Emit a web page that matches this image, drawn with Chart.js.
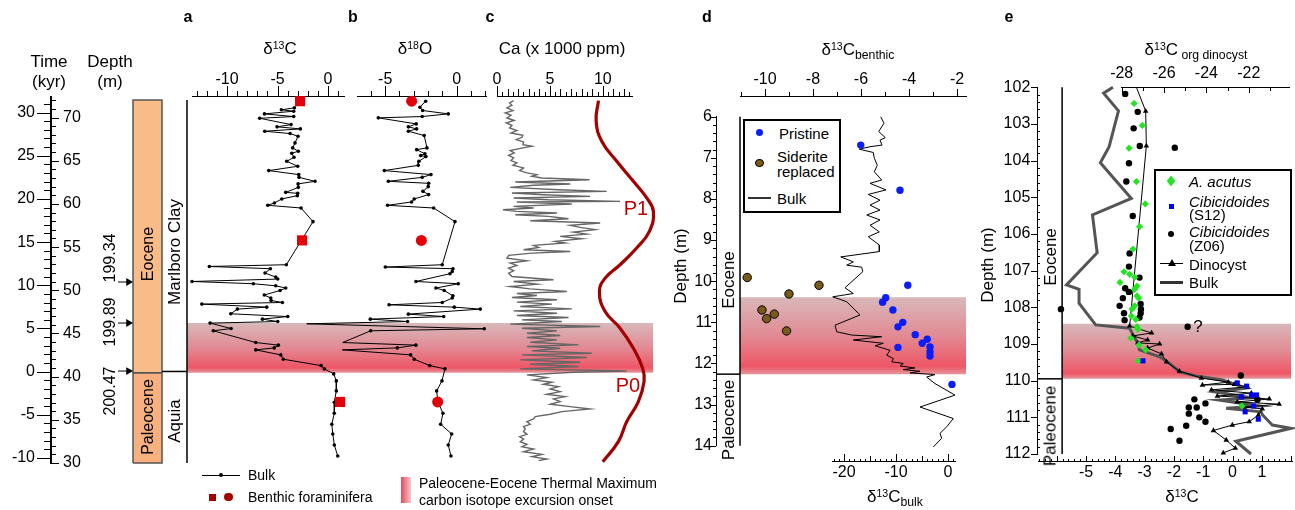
<!DOCTYPE html>
<html><head><meta charset="utf-8"><title>PETM records</title>
<script src="https://cdn.jsdelivr.net/npm/chart.js@4.4.1/dist/chart.umd.min.js"></script>
<style>
html,body{margin:0;padding:0;background:#fff;}
#wrap{position:relative;width:1295px;height:510px;overflow:hidden;background:#fff;font-family:"Liberation Sans",Arial,Helvetica,sans-serif;color:#000;}
#wrap canvas{position:absolute;left:0;top:0;}
.t{position:absolute;white-space:nowrap;transform:translate(-50%,-50%);line-height:1;z-index:10;font-size:16px;}
.l{transform:translate(0,-50%);}
.rot{transform:translate(-50%,-50%) rotate(-90deg);}
.sp{font-size:0.62em;position:relative;top:-0.5em;}
.sb{font-size:0.72em;position:relative;top:0.3em;}
.box{position:absolute;border:2px solid #000;background:#fff;z-index:9;box-sizing:border-box;}
.mk{position:absolute;z-index:11;}
.i{font-style:italic;}
</style></head><body><div id="wrap">
<!-- left axis titles -->
<div class="t" style="left:49px;top:61px;font-size:17px">Time</div>
<div class="t" style="left:49px;top:81px;font-size:17px">(kyr)</div>
<div class="t" style="left:110px;top:61px;font-size:17px">Depth</div>
<div class="t" style="left:110px;top:81px;font-size:17px">(m)</div>
<!-- panel letters -->
<div class="t" style="left:188px;top:17px;font-weight:bold">a</div>
<div class="t" style="left:353px;top:17px;font-weight:bold">b</div>
<div class="t" style="left:490px;top:17px;font-weight:bold">c</div>
<div class="t" style="left:707px;top:17px;font-weight:bold">d</div>
<div class="t" style="left:1009px;top:17px;font-weight:bold">e</div>
<!-- axis titles -->
<div class="t" style="left:280px;top:48px;font-size:17px">δ<span class="sp">13</span>C</div>
<div class="t" style="left:415px;top:48px;font-size:17px">δ<span class="sp">18</span>O</div>
<div class="t" style="left:562px;top:48px;font-size:17px">Ca (x 1000 ppm)</div>
<div class="t" style="left:858px;top:49px;font-size:17px">δ<span class="sp">13</span>C<span class="sb">benthic</span></div>
<div class="t" style="left:1196px;top:49px;font-size:17px">δ<span class="sp">13</span>C<span class="sb"> org dinocyst</span></div>
<div class="t" style="left:895px;top:496px;font-size:17px">δ<span class="sp">13</span>C<span class="sb">bulk</span></div>
<div class="t" style="left:1182px;top:496px;font-size:17px">δ<span class="sp">13</span>C</div>
<!-- stratigraphy labels -->
<div class="t rot" style="left:148px;top:254px">Eocene</div>
<div class="t rot" style="left:148px;top:417px">Paleocene</div>
<div class="t rot" style="left:174px;top:252px;font-size:17px">Marlboro Clay</div>
<div class="t rot" style="left:174px;top:421px;font-size:17px">Aquia</div>
<div class="t rot" style="left:110px;top:258px">199.34</div>
<div class="t rot" style="left:110px;top:322px">199.89</div>
<div class="t rot" style="left:110px;top:391px">200.47</div>
<div class="t" style="left:636px;top:208px;font-size:20px;color:#C00000">P1</div>
<div class="t" style="left:628px;top:385px;font-size:20px;color:#C00000">P0</div>
<div class="t rot" style="left:680px;top:266px;font-size:17px">Depth (m)</div>
<div class="t rot" style="left:728px;top:280px;font-size:17px">Eocene</div>
<div class="t rot" style="left:728px;top:420px;font-size:17px">Paleocene</div>
<div class="t rot" style="left:987px;top:265px;font-size:17px">Depth (m)</div>
<div class="t rot" style="left:1050px;top:257px;font-size:17px">Eocene</div>
<div class="t rot" style="left:1050px;top:426px;font-size:17px">Paleocene</div>
<div class="t" style="left:1198px;top:326px;font-size:17px">?</div>
<!-- legend panel d -->
<div class="box" style="left:743px;top:119px;width:98px;height:94px"></div>
<div class="mk" style="left:755.6px;top:129px;width:7.4px;height:7.4px;border-radius:50%;background:#0A1EF5"></div>
<div class="t l" style="left:779px;top:133px;font-size:15px">Pristine</div>
<div class="mk" style="left:755px;top:158.5px;width:8.5px;height:8.5px;border-radius:50%;background:#7A5A18;border:1px solid #000;box-sizing:border-box"></div>
<div class="t l" style="left:777px;top:156px;font-size:15px">Siderite</div>
<div class="t l" style="left:777px;top:171px;font-size:15px">replaced</div>
<div class="mk" style="left:748px;top:197px;width:23px;height:1.5px;background:#333"></div>
<div class="t l" style="left:777px;top:198px;font-size:15px">Bulk</div>
<!-- legend panel e -->
<div class="box" style="left:1154px;top:169px;width:138px;height:127px"></div>
<div class="mk" style="left:1168px;top:178px;width:6px;height:6px;background:#22E522;transform:scaleY(1.3) rotate(45deg)"></div>
<div class="t l i" style="left:1189px;top:181px;font-size:15px">A. acutus</div>
<div class="mk" style="left:1168.5px;top:203.5px;width:5px;height:5px;background:#0000F0"></div>
<div class="t l i" style="left:1189px;top:201px;font-size:15px">Cibicidoides</div>
<div class="t l" style="left:1189px;top:214px;font-size:15px">(S12)</div>
<div class="mk" style="left:1168px;top:231.3px;width:6px;height:6px;border-radius:50%;background:#000"></div>
<div class="t l i" style="left:1189px;top:231px;font-size:15px">Cibicidoides</div>
<div class="t l" style="left:1189px;top:245px;font-size:15px">(Z06)</div>
<div class="mk" style="left:1160px;top:263px;width:23px;height:1px;background:#000"></div>
<div class="mk" style="left:1167.5px;top:259px;width:0;height:0;border-left:4px solid transparent;border-right:4px solid transparent;border-bottom:7px solid #000"></div>
<div class="t l" style="left:1189px;top:263.5px;font-size:15px">Dinocyst</div>
<div class="mk" style="left:1160px;top:280.5px;width:23px;height:3px;background:#333"></div>
<div class="t l" style="left:1189px;top:282px;font-size:15px">Bulk</div>
<!-- bottom legend -->
<div class="mk" style="left:202px;top:474.5px;width:38px;height:1px;background:#000"></div>
<div class="mk" style="left:219px;top:473px;width:4px;height:4px;border-radius:50%;background:#000"></div>
<div class="t l" style="left:248px;top:475px;font-size:14px">Bulk</div>
<div class="mk" style="left:209px;top:493.5px;width:7px;height:7px;background:#A50000"></div>
<div class="mk" style="left:224px;top:492.5px;width:8.5px;height:8.5px;border-radius:50%;background:#A50000"></div>
<div class="t l" style="left:248px;top:497px;font-size:14px">Benthic foraminifera</div>
<div class="mk" style="left:401px;top:477px;width:10px;height:26px;background:linear-gradient(to right,#E6485A,#F4C9CD)"></div>
<div class="t l" style="left:419px;top:483px;font-size:14px">Paleocene-Eocene Thermal Maximum</div>
<div class="t l" style="left:419px;top:500px;font-size:14px">carbon isotope excursion onset</div>
</div>
<script>
const FONT = '"Liberation Sans", Arial, Helvetica, sans-serif';
const W = 1295, H = 510;
const RED = '#E3000B';

// ================= DATA =================
// shared vertical ranges for the left group (depth in m, time in kyr)
const abcDepthMin = 30, abcDepthMax = 72.5;
const timeMin = -10.58, timeMax = 31.92;

// stratigraphy column (depth, m)
const epochTop = 72.04, epochBoundary = 40.45, epochBase = 30;
const formationBoundary = 40.6;
const arrowDepths = [50.96, 46.21, 40.65];
const petmTop = 46.21, petmBase = 40.45;

// panel a: bulk d13C
const aDepth = [71.13,70.90,70.74,70.43,70.12,69.92,69.19,68.93,68.69,68.42,68.15,67.84,67.07,66.49,66.10,65.87,65.40,64.94,64.36,63.86,63.40,63.08,62.62,62.32,61.92,61.34,61.23,60.96,60.58,60.11,59.84,59.53,57.95,52.96,52.76,52.50,52.00,51.53,51.30,51.02,50.76,50.52,50.26,49.98,49.45,49.10,48.82,48.59,48.40,48.05,47.82,47.28,46.96,46.66,46.38,46.20,45.57,45.31,43.95,43.65,43.33,43.10,42.52,42.02,41.28,40.90,40.32,39.51,38.35,37.04,35.76,34.49,33.36,32.09,30.81];
const aC13 = [-3.33,-4.62,-3.40,-6.30,-3.40,-6.77,-3.66,-5.05,-2.74,-6.27,-3.76,-2.97,-3.27,-3.50,-2.94,-3.60,-3.37,-4.09,-3.00,-5.87,-2.90,-2.87,-1.29,-2.97,-2.94,-4.19,-3.00,-3.04,-4.58,-5.31,-5.97,-2.67,-1.49,-4.13,-11.75,-5.71,-6.24,-5.18,-4.98,-13.47,-7.40,-5.18,-4.19,-4.75,-6.31,-5.67,-5.64,-4.52,-12.50,-6.07,-8.98,-9.63,-3.99,-6.50,-4.98,-11.68,-9.60,-11.36,-7.16,-4.92,-5.32,-7.16,-4.68,-4.43,-0.69,-0.37,0.56,0.82,0.82,0.62,0.62,0.37,0.47,0.62,0.96];
const aBenthicDepth = [71.9, 55.78, 37.07];
const aBenthicC13 = [-2.77, -2.57, 1.19];

// panel b: bulk d18O
const bDepth = [71.90,71.20,70.82,70.43,70.12,69.97,69.27,68.93,68.69,68.42,67.92,66.49,66.29,65.80,65.60,65.48,64.94,64.47,63.86,63.40,63.08,62.62,62.39,62.00,61.46,61.08,60.58,60.23,59.84,59.53,57.95,52.96,52.69,52.50,52.18,51.92,51.02,50.76,50.26,49.98,49.36,49.10,48.59,48.32,48.05,47.82,47.24,46.96,46.66,46.38,46.12,45.54,45.31,43.95,43.65,43.33,43.10,42.52,42.02,41.28,40.90,39.51,38.35,37.07,35.76,34.49,33.36,32.09,30.81];
const bO18 = [-2.17,-2.57,-2.38,-0.59,-2.41,-5.48,-2.83,-3.38,-2.80,-3.38,-2.27,-2.08,-2.80,-2.22,-2.52,-2.15,-2.64,-2.69,-5.06,-1.80,-2.41,-4.78,-1.96,-1.99,-2.36,-1.96,-2.97,-3.15,-4.83,-1.61,-0.12,-1.01,-4.99,-0.26,-0.31,-0.47,-2.85,0.11,-1.45,-0.87,-0.26,-0.31,-1.01,-4.73,-0.17,1.65,-3.38,-0.91,-6.04,-3.43,-10.49,1.93,-6.01,-7.97,-2.85,-4.15,-8.00,-3.22,-2.97,-1.89,-0.82,-1.03,-1.40,-1.31,-0.96,-1.12,-0.35,-0.59,-0.40];
const bBenthicDepth = [71.9, 55.78, 37.07];
const bBenthicO18 = [-3.15, -2.47, -1.33];

// panel c: Ca (x1000 ppm)
const cDepth = [71.97,71.70,71.43,71.12,70.81,70.54,70.27,69.96,69.66,69.38,69.11,68.80,68.50,68.22,67.95,67.72,67.45,67.18,66.87,66.68,66.49,66.18,65.91,65.64,65.33,65.02,64.75,64.48,64.17,63.86,63.59,63.39,63.20,63.01,62.81,62.54,62.31,62.16,61.92,61.65,61.46,61.27,61.07,60.88,60.69,60.49,60.30,60.22,59.99,59.72,59.53,59.33,59.14,58.95,58.75,58.56,58.29,58.06,57.79,57.52,57.29,57.02,56.74,56.51,56.24,55.97,55.66,55.47,55.20,54.97,54.70,54.50,54.31,54.04,53.73,53.42,53.15,52.88,52.57,52.26,51.99,51.60,51.22,51.02,50.71,50.44,50.17,49.86,49.63,49.40,49.17,48.90,48.63,48.40,48.13,47.85,47.62,47.35,47.08,46.85,46.58,46.38,46.08,45.80,45.61,45.30,45.03,44.76,44.53,44.26,43.99,43.68,43.49,43.29,42.98,42.71,42.52,42.21,41.94,41.67,41.44,41.17,40.90,40.66,40.51,40.20,39.89,39.62,39.35,39.12,38.85,38.58,38.27,37.96,37.69,37.42,37.11,36.80,36.53,36.26,35.95,35.64,35.37,35.10,34.79,34.48,34.21,33.94,33.63,33.32,33.05,32.78,32.47,32.16,31.89,31.62,31.31,31.00,30.73,30.46,30.27];
const cCa = [1.57,1.19,1.41,0.94,1.51,0.78,1.32,0.94,1.63,0.88,1.41,1.19,1.88,1.32,2.45,2.36,1.82,2.51,2.45,3.30,2.45,1.25,1.63,1.10,1.57,1.32,1.88,1.51,2.51,2.14,2.83,3.77,3.30,4.24,8.74,1.73,6.92,3.46,1.25,5.81,10.37,1.41,4.40,8.80,1.57,4.87,11.63,1.88,7.07,1.57,3.46,0.56,1.88,5.66,1.73,4.87,6.76,3.14,9.75,6.92,7.86,9.27,7.23,8.49,5.97,8.02,5.50,6.44,3.46,3.93,2.51,6.92,3.30,1.10,0.94,2.83,1.25,1.88,1.10,1.57,1.10,1.41,5.34,1.57,3.77,1.25,3.14,6.60,1.88,3.77,1.41,5.66,1.88,5.19,2.20,7.07,1.57,5.66,1.88,6.76,2.36,6.13,1.25,9.75,2.36,5.66,2.83,5.97,2.83,5.66,3.14,7.70,2.83,5.97,3.30,8.96,2.36,8.49,2.20,7.86,3.14,7.70,2.20,12.26,7.23,2.83,4.71,3.46,5.19,4.40,5.81,5.03,5.97,4.71,6.44,5.34,5.97,5.03,6.92,8.80,6.13,5.03,3.61,3.46,2.83,3.14,2.51,2.67,2.51,2.83,2.14,2.51,2.20,2.83,2.36,3.46,2.51,4.24,3.30,4.71,3.93];
// precession-style curve (P0/P1) control points
const cCurveDepth = [71.97,69.58,67.26,64.94,62.62,60.69,59.14,56.82,54.89,52.96,51.41,49.86,47.54,45.61,43.29,40.97,39.43,37.11,34.79,32.47,30.15];
const cCurveCa = [9.59,9.37,9.90,11.32,12.89,14.15,14.78,14.40,13.20,11.63,10.22,9.68,10.22,11.63,12.89,13.77,13.90,13.36,12.26,11.47,10.00];

// panel d
const dPetmTop = 10.39, dPetmBase = 12.26, dBoundary = 12.26;
const dBulkDepth = [6.00,6.16,6.36,6.51,6.57,6.69,6.73,6.79,6.87,7.01,7.18,7.34,7.54,7.62,7.78,7.89,8.03,8.15,8.27,8.39,8.51,8.64,8.80,8.92,9.12,9.28,9.41,9.53,9.61,9.66,9.77,10.16,10.30,10.38,10.50,10.82,11.07,11.23,11.31,11.35,11.43,11.51,11.57,11.68,11.80,11.88,11.96,12.00,12.06,12.11,12.15,12.19,12.23,12.27,12.33,12.49,12.77,13.06,13.34,13.54,13.70,13.82,14.03];
const dBulkC13 = [-12.94,-12.31,-13.33,-12.06,-13.08,-12.69,-15.0,-17.06,-14.37,-14.17,-13.60,-14.17,-12.75,-15.0,-11.92,-15.33,-13.08,-15.0,-13.08,-15.63,-13.08,-15.0,-13.21,-15.33,-13.21,-13.21,-20.63,-18.21,-19.48,-16.60,-16.40,-19.81,-18.21,-22.17,-19.48,-16.92,-21.73,-21.40,-18.52,-12.75,-18.21,-12.44,-14.04,-11.15,-11.79,-10.52,-10.83,-8.60,-9.23,-6.35,-8.60,-5.38,-7.31,-2.50,-4.10,-2.50,1.35,-5.38,1.02,-0.25,-1.54,-1.21,-2.83];
const dPristineDepth = [6.69,7.79,10.10,10.40,10.51,10.70,11.00,11.11,11.30,11.41,11.51,11.60,11.72,11.82,11.61,12.51];
const dPristineC13 = [-6.01,-4.375,-4.05,-4.97,-5.10,-4.67,-4.26,-4.46,-3.74,-3.24,-3.45,-3.125,-3.125,-3.125,-4.46,-2.21];
const dSideriteDepth = [9.91,10.10,10.31,10.70,10.80,10.91,11.21];
const dSideriteC13 = [-10.74,-7.75,-9.0,-10.125,-9.61,-9.93,-9.10];

// panel e
const ePetmTop = 108.45, ePetmBase = 109.95, eBoundary = 109.95;
const eBulkDepth = [102.0,102.16,102.64,103.62,104.06,105.03,105.48,106.51,107.39,107.51,107.89,108.48,108.57,108.98,109.16,109.35,109.53,109.76,109.87,109.98,110.20,110.31,110.47,110.53,110.69,110.75,110.85,110.93,111.21,111.30,111.65,112.0];
const eBulkC13 = [-4.07,-4.39,-3.88,-4.20,-4.50,-3.44,-4.77,-4.61,-5.66,-5.23,-5.23,-4.66,-3.50,-3.22,-3.16,-2.47,-2.13,-1.79,-1.22,-0.31,0.49,-0.53,0.70,-0.43,0.94,-0.19,1.01,1.05,1.39,2.03,0.14,0.66];
const eDinoDepth = [102.00,102.65,103.60,108.51,108.70,108.78,108.89,108.97,109.00,109.11,109.27,109.49,109.74,109.93,110.04,110.12,110.10,110.17,110.25,110.34,110.42,110.50,110.58,110.64,110.72,110.77,110.94,111.12,111.21,111.36,111.62,111.84,111.97];
const eDinoOrg = [-27.29,-26.85,-26.82,-27.61,-26.57,-27.47,-26.76,-27.23,-26.19,-26.76,-26.10,-25.86,-25.25,-24.21,-22.93,-24.16,-22.65,-22.03,-23.73,-21.84,-23.45,-20.99,-22.51,-20.52,-22.18,-21.32,-21.51,-21.94,-22.74,-23.64,-23.03,-22.60,-23.17];
const eAcutusDepth = [102.44,103.04,103.66,104.57,105.18,105.80,106.41,107.03,107.10,107.32,107.18,107.42,107.51,107.69,107.75,107.96,108.05,108.24,108.33,108.53,108.60,108.84,109.03,109.16,109.46,110.69];
const eAcutusOrg = [-27.40,-27.01,-27.64,-27.29,-26.87,-27.14,-27.45,-27.88,-27.61,-28.07,-27.37,-27.26,-27.37,-27.26,-27.18,-27.37,-27.50,-27.53,-27.32,-27.26,-27.22,-27.56,-27.17,-26.85,-27.20,-22.28];
const eS12Depth = [109.46,110.06,110.15,110.44,110.39,110.39,110.69,110.85,111.05];
const eS12C13 = [-3.04,0.19,0.51,0.33,0.68,0.85,0.74,0.46,0.91];
const eZ06Depth = [102.18,102.67,103.12,103.60,103.65,104.07,104.57,105.51,106.53,106.89,107.19,107.48,107.58,107.75,107.91,107.96,108.05,108.16,108.16,108.28,108.05,108.53,108.35,109.86,110.52,110.51,110.62,110.73,110.73,110.90,111.00,111.12,111.23,111.32,111.64];
const eZ06C13 = [-3.65,-3.22,-3.36,-3.15,-1.95,-3.52,-3.61,-3.39,-3.50,-3.52,-3.16,-3.65,-3.52,-3.73,-3.12,-3.84,-3.11,-3.69,-3.12,-3.16,-5.85,-1.51,-3.67,0.31,0.88,-1.28,-0.90,-1.47,-1.20,-1.47,-1.11,-0.90,-1.56,-2.09,-1.79];

// ================= HELPERS =================
Chart.defaults.font.family = FONT;
Chart.defaults.color = '#000';
Chart.defaults.elements.line.capBezierPoints = false;

const isMult = (v, e) => { const q = v / e; return Math.abs(q - Math.round(q)) < 1e-6; };
const pts = (xs, ys) => xs.map((x, i) => ({ x, y: ys[i] }));

const tickMarks = {
  id: 'tickMarks',
  afterDraw(chart, args, opts) {
    const defs = opts.defs || [];
    const ctx = chart.ctx;
    ctx.save();
    ctx.strokeStyle = '#000';
    ctx.lineWidth = 1;
    for (const d of defs) {
      const s = chart.scales[d.id];
      if (!s) continue;
      for (const t of s.ticks) {
        let lvl = null;
        for (const L of d.levels) { if (isMult(t.value, L[0])) { lvl = L; break; } }
        if (!lvl) continue;
        const len = lvl[1], dir = lvl[2] || d.dir || 'out';
        const p = Math.round(s.getPixelForValue(t.value)) + 0.5;
        ctx.beginPath();
        if (s.isHorizontal()) {
          const y0 = s.position === 'top' ? Math.round(s.bottom) : Math.round(s.top);
          let sg = s.position === 'top' ? -1 : 1; if (dir === 'in') sg = -sg;
          ctx.moveTo(p, y0); ctx.lineTo(p, y0 + sg * len);
        } else {
          const x0 = s.position === 'left' ? Math.round(s.right) : Math.round(s.left);
          let sg = s.position === 'left' ? -1 : 1; if (dir === 'in') sg = -sg;
          ctx.moveTo(x0, p); ctx.lineTo(x0 + sg * len, p);
        }
        ctx.stroke();
      }
    }
    ctx.restore();
  }
};

function axis(pos, min, max, step, lab, pad, size, extra) {
  const labFn = typeof lab === 'function' ? lab : (v) => isMult(v, lab);
  return Object.assign({
    type: 'linear', position: pos, min, max, display: true,
    grid: { display: true, drawOnChartArea: false, drawTicks: false, color: 'rgba(0,0,0,0)' },
    border: { display: true, color: '#000', width: 1 },
    ticks: { stepSize: step, autoSkip: false, maxRotation: 0, minRotation: 0, padding: pad, color: '#000',
      includeBounds: false, font: { family: FONT, size: 16 },
      callback: (v) => labFn(v) ? String(Math.round(v * 1000) / 1000) : '' },
    afterFit: (s) => { if (s.isHorizontal()) s.height = size; else s.width = size; }
  }, extra || {});
}
const hid = (min, max, rev) => ({ type: 'linear', display: false, min, max, reverse: !!rev });

function line(data, color, width, extra) {
  return Object.assign({ data, showLine: true, borderColor: color, borderWidth: width, pointRadius: 0,
    fill: false, clip: false, tension: 0 }, extra || {});
}
function markers(data, style, r, fillC, borderC, bw, extra) {
  return Object.assign({ data, showLine: false, pointStyle: style, pointRadius: r, pointBackgroundColor: fillC,
    pointBorderColor: borderC || fillC, pointBorderWidth: bw || 0, clip: false }, extra || {});
}
function bandFill(topVal, botVal) {
  return (c) => {
    const ch = c.chart, ys = ch.scales.y;
    if (!ch.chartArea || !ys) return 'rgba(230,120,130,0.8)';
    const y0 = ys.getPixelForValue(topVal), y1 = ys.getPixelForValue(botVal);
    const g = ch.ctx.createLinearGradient(0, y0, 0, y1);
    g.addColorStop(0, 'rgb(216,184,186)');
    g.addColorStop(0.5, 'rgb(226,138,147)');
    g.addColorStop(0.9, 'rgb(238,86,102)');
    g.addColorStop(1, 'rgb(228,150,156)');
    return g;
  };
}
function band(x0, x1, topVal, botVal) {
  return { data: [{ x: x0, y: topVal }, { x: x1, y: topVal }], showLine: true, borderWidth: 0,
    borderColor: 'rgba(0,0,0,0)', pointRadius: 0, fill: { value: botVal }, backgroundColor: bandFill(topVal, botVal) };
}

const wrap = document.getElementById('wrap');
function mk(area, sz, scales, datasets, tickDefs) {
  const c = document.createElement('canvas');
  c.width = W; c.height = H;
  wrap.appendChild(c);
  return new Chart(c, {
    type: 'scatter',
    data: { datasets },
    options: {
      responsive: false, maintainAspectRatio: false, animation: false, devicePixelRatio: 1, events: [],
      layout: { padding: { left: area[0] - (sz.l || 0), top: area[1] - (sz.t || 0),
        right: W - area[2] - (sz.r || 0), bottom: H - area[3] - (sz.b || 0) } },
      scales,
      plugins: { legend: { display: false }, tooltip: { enabled: false }, tickMarks: { defs: tickDefs || [] } }
    },
    plugins: [tickMarks]
  });
}

// ================= CHARTS =================
// PETM band behind panels a-c
mk([187, 96, 653, 463], {}, { x: hid(0, 1), y: hid(abcDepthMin, abcDepthMax) },
  [band(0, 1, petmTop, petmBase)]);

// Time / depth axis
mk([50, 96, 51, 463], { l: 50, r: 60 }, {
  x: hid(0, 1),
  y: axis('left', timeMin, timeMax, 1, 5, 15, 50),
  yD: axis('right', abcDepthMin, abcDepthMax, 1, 5, 12, 60)
}, [{ data: [] }], [{ id: 'y', levels: [[5, 13], [1, 6]] }, { id: 'yD', levels: [[5, 8], [1, 5]] }]);

// Stratigraphic column (x in px-like units: 0 = left edge of epoch box)
const arrowDs = arrowDepths.map(d => line([{ x: -15, y: d }, { x: -4.5, y: d }], '#000', 1,
  { pointRadius: [0, 4.5], pointStyle: 'triangle', pointRotation: 90, pointBackgroundColor: '#000', pointBorderWidth: 0 }));
mk([100, 96, 187, 463], {}, { x: hid(-33, 54), y: hid(abcDepthMin, abcDepthMax) }, [
  ...arrowDs,
  line([{ x: 29, y: formationBoundary }, { x: 54, y: formationBoundary }], '#000', 1.5),
  line([{ x: 54, y: epochBase }, { x: 54, y: epochTop }], '#000', 1.5),
  line([{ x: 0, y: epochBoundary }, { x: 0, y: epochTop }, { x: 29, y: epochTop }, { x: 29, y: epochBoundary }, { x: 0, y: epochBoundary }], '#555', 1.5),
  line([{ x: 0, y: epochBase }, { x: 0, y: epochBoundary }, { x: 29, y: epochBoundary }, { x: 29, y: epochBase }, { x: 0, y: epochBase }], '#555', 1.5),
  { data: [{ x: 0, y: epochTop }, { x: 29, y: epochTop }], showLine: true, borderWidth: 0, pointRadius: 0, fill: { value: epochBoundary }, backgroundColor: '#F9BB88' },
  { data: [{ x: 0, y: epochBoundary }, { x: 29, y: epochBoundary }], showLine: true, borderWidth: 0, pointRadius: 0, fill: { value: epochBase }, backgroundColor: '#F7B07E' }
]);

// Panel a
mk([192, 96, 344, 463], { t: 40 }, {
  x: axis('top', -13.47, 1.58, 1, 5, 7, 40),
  y: hid(abcDepthMin, abcDepthMax)
}, [
  markers(pts(aBenthicC13, aBenthicDepth), 'rect', 7.2, RED),
  line(pts(aC13, aDepth), '#000', 1, { pointRadius: 1.8, pointBackgroundColor: '#000', pointBorderWidth: 0 })
], [{ id: 'x', levels: [[5, 10], [1, 5]] }]);

// Panel b
mk([357, 96, 486, 463], { t: 40 }, {
  x: axis('top', -6.97, 2.05, 1, 5, 7, 40),
  y: hid(abcDepthMin, abcDepthMax)
}, [
  markers(pts(bBenthicO18, bBenthicDepth), 'circle', 5.5, RED),
  line(pts(bO18, bDepth), '#000', 1, { pointRadius: 1.8, pointBackgroundColor: '#000', pointBorderWidth: 0 })
], [{ id: 'x', levels: [[5, 10], [1, 5]] }]);

// Panel c
mk([497, 96, 632, 463], { t: 40 }, {
  x: axis('top', 0, 12.76, 0.5, 5, 7, 40),
  y: hid(abcDepthMin, abcDepthMax)
}, [
  line(pts(cCurveCa, cCurveDepth), '#A30000', 3.2, { tension: 0.45 }),
  line(pts(cCa, cDepth), '#666', 1.4)
], [{ id: 'x', levels: [[5, 10], [1, 7], [0.5, 4]] }]);

// Panel d (main)
mk([716, 116.7, 966, 445.7], { l: 40 }, {
  x: hid(-12.04, -1.625),
  xk: hid(-44.62, 3.46),
  y: axis('left', 6, 14, 0.2, 1, 4, 40, { reverse: true })
}, [
  markers(pts(dSideriteC13, dSideriteDepth), 'circle', 4.2, '#7A5A18', '#000', 1),
  markers(pts(dPristineC13, dPristineDepth), 'circle', 3.7, '#0A1EF5'),
  line(pts(dBulkC13, dBulkDepth), '#000', 1, { xAxisID: 'xk' }),
  line([{ x: -11.04, y: 6 }, { x: -11.04, y: 14 }], '#000', 1.5),
  line([{ x: -12.04, y: dBoundary }, { x: -11.04, y: dBoundary }], '#000', 1.5),
  band(-11.04, -1.625, dPetmTop, dPetmBase)
], [{ id: 'y', levels: [[1, 5], [0.2, 3]] }]);
// Panel d benthic axis (top)
mk([740, 96.7, 966, 97.7], { t: 40 }, {
  x: axis('top', -11.04, -1.625, 1, 2, 8, 40), y: hid(0, 1)
}, [{ data: [] }], [{ id: 'x', levels: [[2, 8], [1, 5]] }]);
// Panel d bulk axis (bottom)
mk([832, 460.7, 955, 461.7], { b: 30 }, {
  x: axis('bottom', -22.31, 1.35, 1, 10, 1, 30), y: hid(0, 1)
}, [{ data: [] }], [{ id: 'x', levels: [[10, 8], [5, 6], [1, 3]], dir: 'in' }]);

// Panel e (main)
mk([1037.3, 87.3, 1292, 454], { l: 50 }, {
  x: hid(-6.66, 2.03),
  xo: hid(-31.99, -19.96),
  y: axis('left', 102, 112, 0.2, 1, 7, 50, { reverse: true })
}, [
  markers(pts(eS12C13, eS12Depth), 'rect', 3.6, '#0000F0'),
  markers(pts(eAcutusOrg, eAcutusDepth), 'rectRot', 3.6, '#22E522', null, 0, { xAxisID: 'xo' }),
  markers(pts(eZ06C13, eZ06Depth), 'circle', 3.2, '#000'),
  line(pts(eDinoOrg, eDinoDepth), '#000', 1, { xAxisID: 'xo', pointStyle: 'triangle',
    pointRadius: eDinoDepth.map((d, i) => i === 0 ? 0 : 3.2), pointBackgroundColor: '#000', pointBorderWidth: 0 }),
  line(pts(eBulkC13, eBulkDepth), '#555', 3),
  line([{ x: -5.81, y: 102 }, { x: -5.81, y: 112 }], '#000', 1.5),
  line([{ x: -6.66, y: eBoundary }, { x: -5.81, y: eBoundary }], '#000', 1.5),
  band(-5.81, 2.03, ePetmTop, ePetmBase)
], [{ id: 'y', levels: [[1, 6, 'out'], [0.2, 3, 'in']] }]);
// Panel e organic dinocyst axis (top)
mk([1121.7, 87.3, 1289, 88.3], { t: 30 }, {
  x: axis('top', -28, -20.1, 1, 2, 4, 30), y: hid(0, 1)
}, [{ data: [] }], [{ id: 'x', levels: [[2, 6], [1, 4]], dir: 'in' }]);
// Panel e d13C axis (bottom)
mk([1038.3, 460.7, 1292, 461.7], { b: 30 }, {
  x: axis('bottom', -6.63, 2.03, 0.2, (v) => isMult(v, 1) && v >= -5.01 && v <= 1.01, 1, 30), y: hid(0, 1)
}, [{ data: [] }], [{ id: 'x', levels: [[1, 6], [0.2, 3]], dir: 'in' }]);
</script>
</body></html>
